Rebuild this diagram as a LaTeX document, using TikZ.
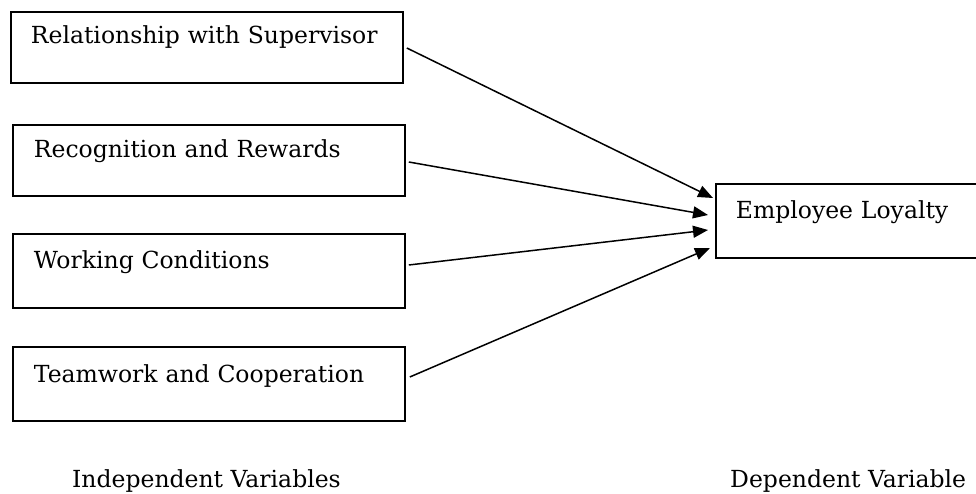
\documentclass[tikz,border=0pt]{standalone}
\usepackage{fontspec}
\setmainfont{DejaVu Serif}
\usetikzlibrary{arrows.meta}
\begin{document}
\begin{tikzpicture}[x=1pt,y=-1pt,
  varbox/.style={draw,line width=1.8pt,anchor=north west,inner xsep=20pt,inner ysep=0pt,
    align=left,text width=352pt,font=\fontsize{23.5}{28}\selectfont},
  link/.style={line width=1.5pt,-{Triangle[length=15pt,width=12pt]}},
  caption/.style={anchor=base west,inner sep=0pt,font=\fontsize{23.5}{28}\selectfont}]
\useasboundingbox (0,0) rectangle (976,494);
\begin{scope}
\clip (0,0) rectangle (976,494);
\node[varbox,text height=32pt,text depth=39pt] (b1) at (10,11) {Relationship with Supervisor};
\node[varbox,inner xsep=21pt,text width=350pt,text height=33pt,text depth=38pt] (b2) at (12,124) {Recognition and Rewards};
\node[varbox,inner xsep=21pt,text width=350pt,text height=35pt,text depth=39pt] (b3) at (12,233) {Working Conditions};
\node[varbox,inner xsep=21pt,text width=350pt,text height=36pt,text depth=38pt] (b4) at (12,346) {Teamwork and Cooperation};
\node[varbox,text width=260pt,text height=35pt,text depth=39pt] (dv) at (715,183) {Employee Loyalty};
\end{scope}
\draw[link] ([xshift=3pt,yshift=-37pt]b1.north east) -- ([xshift=-2pt,yshift=-15pt]dv.north west);
\draw[link] ([xshift=3pt,yshift=-38pt]b2.north east) -- ([xshift=-7pt,yshift=-32pt]dv.north west);
\draw[link] ([xshift=3pt,yshift=-32pt]b3.north east) -- ([xshift=-7pt,yshift=-47pt]dv.north west);
\draw[link] ([xshift=4pt,yshift=-31pt]b4.north east) -- ([xshift=-5pt,yshift=-65pt]dv.north west);
\node[caption] (iv) at (72,487) {Independent Variables};
\node[caption] (dvl) at (730,487) {Dependent Variable};
\end{tikzpicture}
\end{document}
